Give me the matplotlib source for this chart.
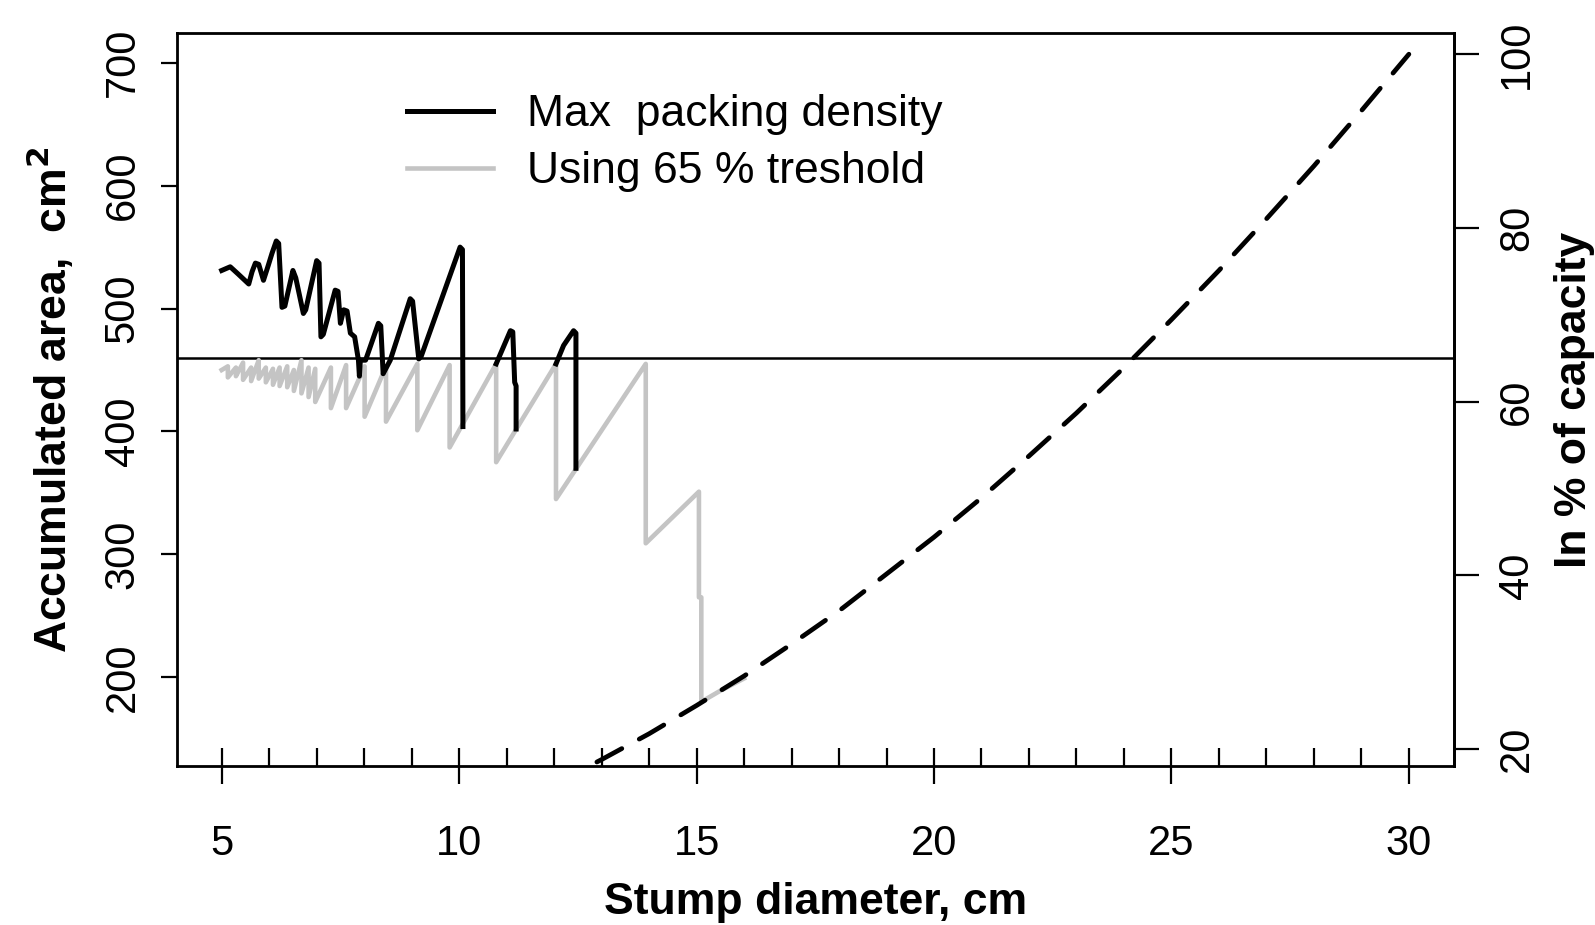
import numpy as np
import matplotlib
matplotlib.use('Agg')
import matplotlib.pyplot as plt
from matplotlib.ticker import MultipleLocator

plt.rcParams['font.family'] = ['Liberation Sans', 'DejaVu Sans']

#DATA
#max packing density, nan where the line runs under the grey one
max_d = [5.00, 5.18, 5.35, 5.57, 5.64, 5.71, 5.78, 5.88, 5.98, 6.06, 6.15, 6.20,
         6.27, 6.33, 6.50, 6.56, 6.72, 6.77, 7.00, 7.05, 7.09, 7.14, 7.39, 7.45,
         7.50, 7.57, 7.64, 7.71, 7.80, 7.88, 7.90, 7.92, 8.03, 8.30, 8.35, 8.40,
         8.55, 8.97, 9.02, 9.15, 9.20, 10.02, 10.07, 10.08, np.nan,
         10.78, 11.08, 11.13, 11.17, 11.20, 11.20, np.nan,
         12.04, 12.20, 12.41, 12.46, 12.46]
max_area = [531, 534, 528, 520, 530, 537, 536, 523, 535, 545, 555, 553,
            501, 502, 531, 525, 496, 499, 539, 537, 477, 479, 515, 514,
            488, 499, 498, 480, 477, 458, 445, 458, 458, 488, 486, 447,
            458, 508, 506, 459, 461, 550, 548, 404, np.nan,
            455, 482, 481, 440, 437, 402, np.nan,
            455, 470, 482, 480, 370]

#using 65 % threshold
thr_d = [5.00, 5.13, 5.13, 5.30, 5.30, 5.45, 5.45, 5.62, 5.62, 5.78, 5.78,
         5.93, 5.93, 6.08, 6.08, 6.22, 6.22, 6.38, 6.38, 6.52, 6.52, 6.68, 6.68,
         6.83, 6.83, 6.97, 6.97, 7.30, 7.30, 7.62, 7.62, 8.01, 8.01, 8.46, 8.46,
         9.12, 9.12, 9.80, 9.80, 10.78, 10.78, 12.04, 12.04, 13.93, 13.93,
         15.05, 15.05, 15.10, 15.10, 15.50, 16.00]
thr_area = [450, 453, 444, 452, 445, 456, 442, 452, 441, 458, 443,
            452, 440, 451, 438, 452, 437, 453, 436, 450, 433, 458, 431,
            452, 428, 451, 424, 452, 419, 454, 419, 453, 412, 453, 408,
            455, 401, 454, 387, 455, 375, 455, 345, 455, 309,
            351, 265, 265, 180, 189, 199]

#single stump area (dashed)
stump_d = [12, 13, 14, 15, 16, 17, 18, 19, 20, 21, 22, 23, 24, 25, 26, 27, 28, 29, 30]
stump_area = [113, 133, 154, 177, 201, 227, 254, 284, 314, 346, 380, 415, 452,
              491, 531, 573, 616, 661, 707]

threshold = 460
capacity = 707
labels = ['Max  packing density', 'Using 65 % treshold']

#PLOT
fig = plt.figure(figsize=(15.95, 9.25), dpi=100)
ax = fig.add_axes([0.1107, 0.1722, 0.8009, 0.7918])

ax.plot(thr_d, thr_area, color='#c4c4c4', lw=3.3, label=labels[1], zorder=2)
ax.plot(max_d, max_area, color='black', lw=3.6, label=labels[0], zorder=3)
ax.plot(stump_d, stump_area, color='black', lw=3.4, linestyle=(0, (6, 4.2)),
        dash_capstyle='round', zorder=4)
ax.axhline(threshold, color='black', lw=1.8, zorder=1)

ax.set_xlim(4.05, 30.95)
ax.set_ylim(128, 724)

ax.xaxis.set_major_locator(MultipleLocator(5))
ax.xaxis.set_minor_locator(MultipleLocator(1))
ax.tick_params(axis='x', which='major', direction='inout', length=26, width=1.6,
               labelsize=30, pad=29)
ax.tick_params(axis='x', which='minor', direction='in', length=13, width=1.6)
ax.yaxis.set_major_locator(MultipleLocator(100))
ax.tick_params(axis='y', which='major', direction='out', length=11.5, width=1.6,
               labelsize=30, pad=13)
for t in ax.get_yticklabels():
    t.set_rotation(90)
    t.set_va('center')
for s in ax.spines.values():
    s.set_linewidth(2)

ax.set_xlabel('Stump diameter, cm', fontsize=32, fontweight='bold', labelpad=13)
ax.set_ylabel('Accumulated area,  cm$^\\mathbf{2}$', fontsize=32, fontweight='bold',
              labelpad=19)

ax2 = ax.twinx()
ax2.set_ylim(128 / capacity * 100, 724 / capacity * 100)
ax2.yaxis.set_major_locator(MultipleLocator(20))
ax2.tick_params(axis='y', direction='out', length=18, width=1.6, labelsize=30, pad=13)
for t in ax2.get_yticklabels():
    t.set_rotation(90)
    t.set_va('center')
ax2.spines['right'].set_linewidth(2)
ax2.set_ylabel('In % of capacity', fontsize=32, fontweight='bold', labelpad=12)

h, l = ax.get_legend_handles_labels()
ax.legend(h[::-1], l[::-1], loc='upper left', bbox_to_anchor=(0.18, 0.917),
          frameon=False, fontsize=32, handlelength=1.95, handletextpad=0.75,
          labelspacing=0.36, borderpad=0, borderaxespad=0)

fig.savefig('out.png', dpi=100)
